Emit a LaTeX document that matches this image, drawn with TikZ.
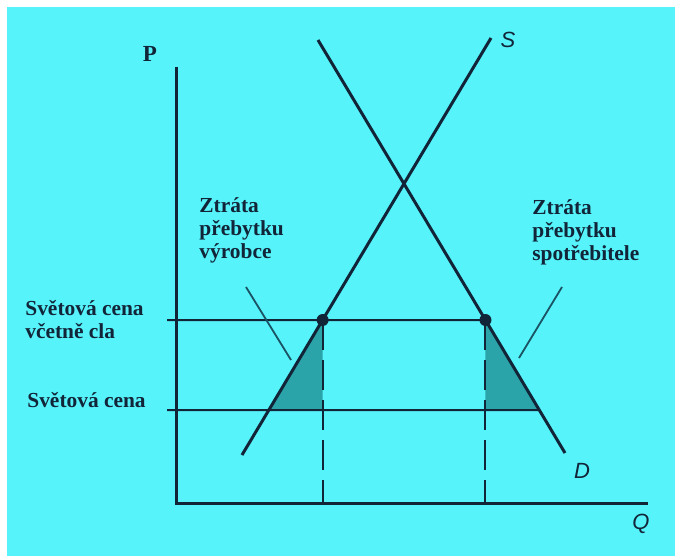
\documentclass[tikz,border=0pt]{standalone}
\usepackage{fontspec}
\setmainfont{Liberation Serif}
\setsansfont{Liberation Sans}
\definecolor{bgcyan}{RGB}{86,243,250}
\definecolor{inkblue}{RGB}{18,36,56}
\definecolor{pointerteal}{RGB}{26,84,100}
\definecolor{lossteal}{RGB}{42,164,168}

\begin{document}
\begin{tikzpicture}[x=0.5pt, y=-0.5pt,
      curve/.style={line width=1.5pt, inkblue},
      axis/.style={line width=1.5pt, inkblue},
      priceline/.style={line width=1pt, inkblue},
      guide/.style={line width=1pt, inkblue, dash pattern=on 15pt off 5pt},
      pointer/.style={line width=0.9pt, pointerteal},
      loss/.style={fill=lossteal},
      eqdot/.style={circle, fill=inkblue, inner sep=0pt, minimum size=6pt},
      lbl/.style={font=\bfseries\fontsize{10.7}{11.5}\selectfont, text=inkblue,
                  align=left, inner sep=0pt, anchor=west},
      curvelbl/.style={font=\sffamily\itshape\fontsize{11}{11}\selectfont,
                       text=inkblue, inner sep=0pt}
    ]
    \useasboundingbox (0,0) rectangle (675,556);
    \fill[white] (0,0) rectangle (675,556);
    \fill[bgcyan] (7,7) rectangle (675,556);

    \coordinate (origin) at (176,503);
    \coordinate (ptop) at (176,67);
    \coordinate (qend) at (648,503);
    \coordinate (sbot) at (242,455);
    \coordinate (stop) at (491,38);
    \coordinate (dtop) at (318,40);
    \coordinate (dbot) at (565,453);
    \coordinate (hiL) at (167,320);
    \coordinate (hiR) at (620,320);
    \coordinate (loL) at (167,410);
    \coordinate (loR) at (620,410);
    \coordinate (tariffS) at (intersection of sbot--stop and hiL--hiR);
    \coordinate (tariffD) at (intersection of dtop--dbot and hiL--hiR);
    \coordinate (worldS) at (intersection of sbot--stop and loL--loR);
    \coordinate (worldD) at (intersection of dtop--dbot and loL--loR);

    \fill[loss] (worldS) -- (tariffS |- worldS) -- (tariffS) -- cycle;
    \fill[loss] (tariffD) -- (tariffD |- worldD) -- (worldD) -- cycle;

    \draw[priceline] (hiL) -- (tariffD);
    \draw[priceline] (loL) -- (worldD);
    \draw[guide] (tariffS) -- (tariffS |- origin);
    \draw[guide] (tariffD) -- (tariffD |- origin);
    \draw[axis] (ptop) -- (origin) -- (qend);
    \draw[curve] (sbot) -- (stop);
    \draw[curve] (dtop) -- (dbot);
    \node[eqdot] (dotS) at (tariffS) {};
    \node[eqdot] (dotD) at (tariffD) {};

    \node[lbl, anchor=center, font=\bfseries\fontsize{11.5}{12}\selectfont] (plbl) at (150,54) {P};
    \node[curvelbl] (slbl) at (508,40) {S};
    \node[curvelbl] (dlbl) at (582,471) {D};
    \node[curvelbl] (qlbl) at (641,524) {Q};

    \node[lbl] (prodloss) at (199,230) {Ztráta\\přebytku\\výrobce};
    \node[lbl] (consloss) at (532,232) {Ztráta\\přebytku\\spotřebitele};
    \node[lbl] (tariffprice) at (25,320) {Světová cena\\včetně cla};
    \node[lbl] (worldprice) at (27,400) {Světová cena};

    \coordinate (prodfrom) at (246,287);
    \coordinate (prodtip) at (291,360);
    \coordinate (consfrom) at (562,287);
    \coordinate (constip) at (519,358);
    \draw[pointer] (prodfrom) -- (prodtip);
    \draw[pointer] (consfrom) -- (constip);
  \end{tikzpicture}
\end{document}
